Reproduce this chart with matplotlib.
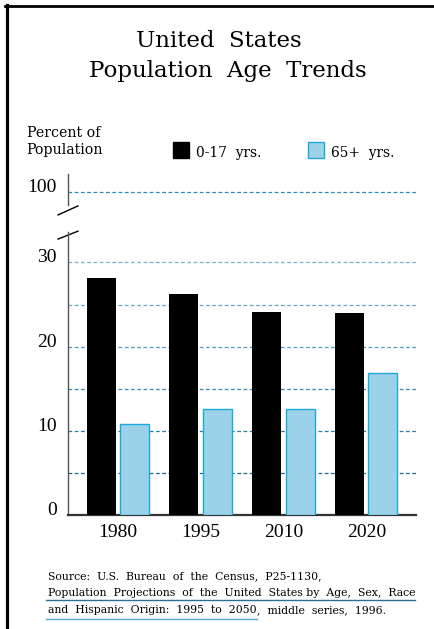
import matplotlib
matplotlib.use("Agg")
import matplotlib.pyplot as plt
from matplotlib.lines import Line2D
from matplotlib.patches import Rectangle
import numpy as np

# data
years = ["1980", "1995", "2010", "2020"]
kids = [28.1, 26.2, 24.1, 24.0]      # 0-17 yrs.
seniors = [10.8, 12.6, 12.6, 16.9]   # 65+ yrs.
series_labels = ["0-17  yrs.", "65+  yrs."]
grid_vals = [5, 10, 15, 20, 25, 30]
tick_vals = [0, 10, 20, 30]

W, H = 435, 629
fig = plt.figure(figsize=(W / 100, H / 100), dpi=100)

def fx(px):
    return px / W

def fy(py):
    return 1 - py / H

serif = "DejaVu Serif"
nums = "Liberation Serif"

# lower (main) axes
ax = fig.add_axes([fx(68), fy(515.3), fx(416) - fx(68), fy(232) - fy(515.3)])
# upper axes for the 100 line
ax2 = fig.add_axes([fx(68), fy(205), fx(416) - fx(68), fy(174) - fy(205)])

x = np.arange(len(years))
w = 0.35
ax.bar(x - 0.2, kids, w, color="black", zorder=3)
ax.bar(x + 0.2, seniors, w, color="#9bd2ea", edgecolor="#1ea8d8", linewidth=1.0, zorder=3)

grid_cols = ["#1c6a8e", "#2a7ca3", "#3789b0", "#4f9cc0", "#63a8c9", "#78b6d2"]
for v, c in zip(grid_vals, grid_cols):
    ax.axhline(v, color=c, lw=0.9, dashes=(3, 2), zorder=1)

ax.set_xlim(-0.6, 3.6)
ax.set_ylim(0, 33.6)
ax.set_xticks(x)
ax.set_xticklabels(years, fontfamily=nums, fontsize=14)
ax.set_yticks(tick_vals)
ax.set_yticklabels([str(t) for t in tick_vals], fontfamily=nums, fontsize=14)
for lab in ax.get_yticklabels():
    lab.set_verticalalignment("baseline")
ax.tick_params(axis="both", length=0)
ax.tick_params(axis="x", pad=6)
ax.tick_params(axis="y", pad=8)
for s in ["top", "right"]:
    ax.spines[s].set_visible(False)
ax.spines["left"].set_color("#555555")
ax.spines["left"].set_linewidth(1.0)
ax.spines["bottom"].set_color("#333333")
ax.spines["bottom"].set_linewidth(1.6)

ax2.axhline(100, color="#2a8cb8", lw=0.9, dashes=(3, 2))
ax2.set_xlim(-0.6, 3.6)
ax2.set_ylim(98.5, 102.2)
ax2.set_xticks([])
ax2.set_yticks([100])
ax2.set_yticklabels(["100"], fontfamily=nums, fontsize=14)
for lab in ax2.get_yticklabels():
    lab.set_verticalalignment("baseline")
ax2.tick_params(axis="y", length=0, pad=8)
for s in ["top", "right", "bottom"]:
    ax2.spines[s].set_visible(False)
ax2.spines["left"].set_color("#555555")
ax2.spines["left"].set_linewidth(1.0)
ax2.patch.set_visible(False)

# break marks
ax.plot([-0.0287, 0.0287], [0.975, 1.003], transform=ax.transAxes,
        color="black", lw=1.0, clip_on=False)
ax2.plot([-0.0287, 0.0287], [-0.32, -0.03], transform=ax2.transAxes,
         color="black", lw=1.0, clip_on=False)

# titles
fig.text(fx(219), fy(47), "United  States", ha="center", va="baseline",
         fontfamily=serif, fontsize=16.5)
fig.text(fx(228), fy(77), "Population  Age  Trends", ha="center", va="baseline",
         fontfamily=serif, fontsize=16.5)
fig.text(fx(64), fy(137), "Percent of", ha="center", va="baseline",
         fontfamily=serif, fontsize=10.2)
fig.text(fx(64), fy(154), "Population", ha="center", va="baseline",
         fontfamily=serif, fontsize=10.2)

# legend
leg_x = [173, 308]
leg_face = ["black", "#9bd2ea"]
leg_edge = ["black", "#1ea8d8"]
for lx, lab, fc, ec in zip(leg_x, series_labels, leg_face, leg_edge):
    fig.add_artist(Rectangle((fx(lx), fy(158)), fx(16), fy(142) - fy(158),
                             facecolor=fc, edgecolor=ec, lw=1.0, transform=fig.transFigure))
    fig.text(fx(lx + 23), fy(157), lab, ha="left", va="baseline",
             fontfamily=serif, fontsize=9.9)

# source
fs = 7.85
src1 = fig.text(fx(48), fy(579), "Source:  U.S.  Bureau  of  the  Census,  P25-1130,",
                fontfamily=serif, fontsize=fs, va="baseline")
src2 = fig.text(fx(48), fy(596), "Population  Projections  of  the  United  States by  Age,  Sex,  Race",
                fontfamily=serif, fontsize=fs, va="baseline")
src3a = fig.text(fx(48), fy(613), "and  Hispanic  Origin:  1995  to  2050",
                 fontfamily=serif, fontsize=fs, va="baseline")
fig.canvas.draw()
r = fig.canvas.get_renderer()
bb3 = src3a.get_window_extent(r)
fig.text(bb3.x1 / W, fy(613), ",  middle  series,  1996.",
         fontfamily=serif, fontsize=fs, va="baseline")
bb2 = src2.get_window_extent(r)
fig.add_artist(Line2D([fx(46), bb2.x1 / W], [fy(600), fy(600)], color="#2a6f95", lw=1.0))
fig.add_artist(Line2D([fx(46), bb3.x1 / W], [fy(619), fy(619)], color="#5aa6cc", lw=1.0))

# frame
fig.add_artist(Line2D([fx(5), 1], [fy(6), fy(6)], color="black", lw=2.0))
fig.add_artist(Line2D([fx(7.5), fx(7.5)], [fy(5), 0], color="black", lw=2.3))

fig.savefig("out.png", dpi=100)
